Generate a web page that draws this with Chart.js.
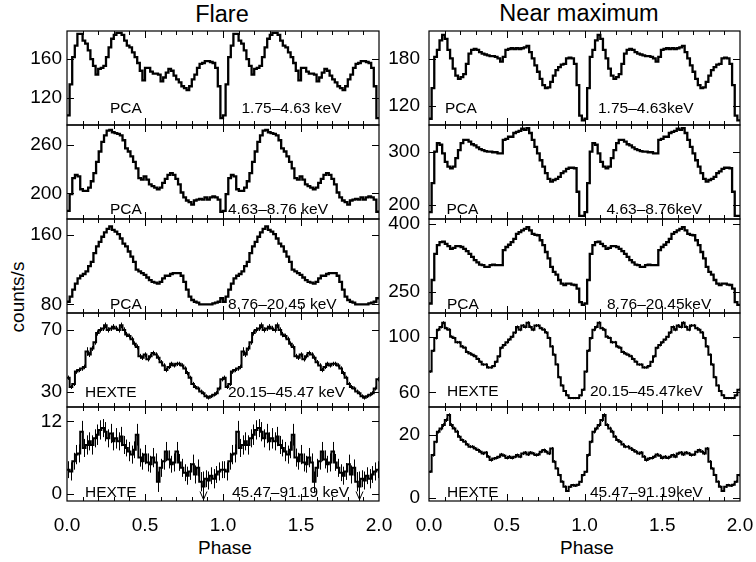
<!DOCTYPE html>
<html>
<head>
<meta charset="utf-8">
<script src="https://cdn.jsdelivr.net/npm/chart.js@4.4.1/dist/chart.umd.min.js"></script>
<style>
  html, body { margin: 0; padding: 0; background: #fff; }
  #wrap { position: relative; width: 756px; height: 562px; overflow: hidden;
          font-family: "Liberation Sans", Arial, Helvetica, sans-serif; color: #000; }
  #wrap canvas { position: absolute; }
  .txt { position: absolute; white-space: nowrap; line-height: 1; }
</style>
</head>
<body>
<div id="wrap">
  <div class="txt" style="font-size:23.5px; left:222px; top:2.5px; transform:translateX(-50%);">Flare</div>
  <div class="txt" style="font-size:23.5px; left:579px; top:2.2px; transform:translateX(-50%);">Near maximum</div>
  <div class="txt" style="font-size:19px; left:17px; top:297px; transform:translate(-50%,-50%) rotate(-90deg);">counts/s</div>
  <div class="txt" style="font-size:19px; left:225px; top:538px; transform:translateX(-50%);">Phase</div>
  <div class="txt" style="font-size:19px; left:587px; top:538px; transform:translateX(-50%);">Phase</div>
</div>
<script>
// ---- Pulse profiles, one cycle each (counts/s per phase bin); plotted over two cycles ----

// Flare
const flarePcaLow = [102,134,162,174,186,186,179,176,169,160, 153,144,150,151,153,162,172,181,185,187,
  187,185,179,174,172,167,162,156,148,138, 151,151,147,145,145,144,137,141,146,150,
  148,143,139,136,132,130,128,132,139,144, 151,155,156,158,158,157,156,151,132,99];
const flarePcaMid = [178,199,219,223,221,205,203,203,207,215, 225,239,252,264,272,278,279,276,275,274,
  272,266,256,252,246,239,231,219,217,221, 217,211,209,207,205,207,213,218,223,225,
  223,218,211,201,195,191,189,186,191,192, 193,192,195,192,195,196,195,192,177];
const flarePcaHigh = [83,89,97,104,110,113,115,118,124,129, 139,147,152,158,163,167,170,166,164,161,
  156,150,147,141,135,129,120,118,116,114, 111,108,106,105,104,106,110,113,113,115,
  116,116,116,113,106,97,89,85,83,82, 80,80,80,80,80,81,82,83,87];
const flareHexteLow = [39,33,35,43,44,45,46,56,54,58, 62,68,70,71,73,70,71,72,71,70,
  73,70,67,66,64,61,59,53,52,54, 51,53,55,54,52,49,47,44,46,48,
  47,48,48,47,45,42,39,35,33,32, 30,29,27,26,27,28,29,32,38];
const flareHexteLowErr = [1.4,1.3,1.4,1.5,1.4,1.5,1.5,2.8,1.6,1.6, 1.6,1.7,1.7,1.7,1.8,1.7,1.7,1.8,1.7,1.7,
  1.8,1.7,1.7,1.6,1.6,1.6,1.6,1.5,1.5,1.5, 1.5,1.5,1.5,1.5,1.5,1.5,1.4,1.4,1.4,1.4,
  1.4,1.4,1.4,1.4,1.4,1.4,1.3,1.3,1.3,1.3, 1.3,1.2,1.2,1.2,1.2,1.2,1.3,1.3,1.4];
const flareHexteHigh = [4.0,3.7,5.4,6.5,6.7,10.3,7.6,8.1,8.7,8.1, 9.2,9.8,10.6,10.9,10.3,9.2,10.0,8.7,9.2,8.7,
  9.5,8.1,7.6,7.0,6.5,7.3,9.8,6.0,5.4,6.5, 5.2,4.9,6.0,5.2,2.0,4.3,5.4,7.0,5.7,4.9,
  5.2,7.0,5.2,4.3,3.5,3.0,3.7,4.9,3.2,4.3, 2.0,1.2,2.5,2.2,3.0,2.5,3.2,3.7,4.0];
const flareHexteHighErr = [1.4,1.5,1.4,1.6,1.5,1.8,1.5,1.6,1.5,1.6, 1.5,1.7,1.6,1.5,1.6,1.5,1.6,1.5,1.7,1.5,
  1.6,1.5,1.4,1.6,1.5,1.4,1.8,1.5,1.4,1.6, 1.5,1.4,1.6,1.5,1.7,1.5,1.4,1.6,1.5,1.4,
  1.5,1.6,1.4,1.5,1.4,1.5,1.4,1.6,1.5,1.4, 1.6,2.5,1.4,1.5,1.4,1.6,1.4,1.5,1.4];
// bins of the 45.47-91.19 keV flare profile shown as upper limits
const flareHexteHighLimitBins = [51];

// Near maximum
const maxPcaLow = [104,143,183,192,204,211,206,192,181,168, 159,155,157,161,174,187,192,193,192,189,
  187,186,185,184,184,183,181,177,183,192, 193,194,193,194,193,194,195,197,189,181,
  172,164,155,147,143,144,151,159,166,170, 173,174,181,182,181,174,147,108,102];
const maxPcaMid = [187,241,300,316,313,297,281,272,269,272, 288,303,316,322,322,319,314,312,308,305,
  303,301,300,300,299,299,297,297,322,324, 328,328,335,337,339,343,341,344,335,322,
  309,297,284,272,260,249,244,247,249,253, 260,263,268,270,270,269,225,180,180];
const maxPcaHigh = [224,276,334,353,360,361,356,351,345,347, 351,351,349,345,340,334,327,320,315,310,
  309,305,305,309,310,309,309,309,342,349, 354,360,367,378,382,386,389,393,386,378,
  376,375,364,353,338,324,305,294,288,276, 268,265,268,268,266,265,257,227,221];
const maxHexteLow = [75,90,99,105,107,110,106,105,100,99, 96,96,93,92,89,88,87,86,84,82,
  80,80,78,78,79,82,86,92,94,96, 98,100,103,107,105,108,107,110,107,105,
  108,108,106,105,103,99,93,87,80,71, 65,61,58,56,56,56,56,58,62];
const maxHexteLowErr = [0.9,1.0,1.0,1.1,1.1,1.1,1.1,1.1,1.0,1.0, 1.0,1.0,1.0,1.0,1.0,1.0,1.0,1.0,1.0,0.9,
  0.9,0.9,0.9,0.9,0.9,0.9,1.0,1.0,1.0,1.0, 1.0,1.0,1.1,1.1,1.1,1.1,1.1,1.1,1.1,1.1,
  1.1,1.1,1.1,1.1,1.1,1.0,1.0,1.0,0.9,0.9, 0.8,0.8,0.8,0.8,0.8,0.8,0.8,0.8,0.9];
const maxHexteHigh = [8.3,13.6,17.9,21.1,22.1,23.2,24.8,26.4,23.2,22.1, 21.1,19.5,18.4,17.9,17.0,16.3,16.3,15.7,15.2,14.7,
  14.1,14.4,13.1,12.0,12.5,12.7,13.1,13.8,13.4,12.7, 13.1,12.7,13.1,13.6,13.1,14.1,14.4,13.8,14.4,14.1,
  13.6,13.8,14.7,15.2,14.7,14.1,15.7,11.5,9.3,7.2, 5.1,3.5,2.1,3.5,4.0,3.8,4.1,5.1,7.2];
const maxHexteHighErr = [0.4,0.5,0.5,0.6,0.6,0.6,0.6,0.6,0.6,0.6, 0.6,0.5,0.5,0.5,0.5,0.5,0.5,0.5,0.5,0.5,
  0.5,0.5,0.5,0.5,0.5,0.5,0.5,0.5,0.5,0.5, 0.5,0.5,0.5,0.5,0.5,0.5,0.5,0.5,0.5,0.5,
  0.5,0.5,0.5,0.5,0.5,0.5,0.5,0.5,0.4,0.4, 0.4,0.4,0.3,0.4,0.4,0.4,0.4,0.4,0.4];

// Axis ticks and ranges, top panel to bottom panel
const phaseTicks = [0, 0.5, 1, 1.5, 2];
const flareTicks = [[120,160],[200,260],[80,160],[30,70],[0,12]];
const flareMin = [92, 168, 70, 20, -1.2];
const flareMax = [189, 285, 178.5, 81, 14.4];
const maxTicks = [[120,180],[200,300],[250,400],[60,100],[0,20]];
const maxMin = [96, 174, 203, 49.6, -1.1];
const maxMax = [216, 350, 411, 117, 29];

const instruments = ['PCA','PCA','PCA','HEXTE','HEXTE'];
const flareBands = ['1.75\u20134.63 keV','4.63\u20138.76 keV','8.76\u201320.45 keV','20.15\u201345.47 keV','45.47\u201391.19 keV'];
const maxBands = ['1.75\u20134.63keV','4.63\u20138.76keV','8.76\u201320.45keV','20.15\u201345.47keV','45.47\u201391.19keV'];

// ---- layout ----
const FONT = '"Liberation Sans", Arial, Helvetica, sans-serif';
Chart.defaults.font.family = FONT;
Chart.defaults.color = '#000';

const rowTop = [31, 125, 219, 313, 407];
const rowH = 94;
const PAD = 28;        // room above/below each plot box for edge tick labels
const AXIS_H = 61;     // phase labels strip under the bottom row
const cols = [
  { canvasLeft: 0,   width: 415, plotLeft: 67,  plotRight: 379, labelPad: 5 },
  { canvasLeft: 385, width: 390, plotLeft: 429, plotRight: 740, labelPad: 9 }
];
// text offsets inside each panel: [dx from left, dy above bottom] for instrument and band
const flareTextPos = [[[43,11.7],[174.5,11.7]], [[43,5],[161,5]], [[43,4.5],[161,4.5]], [[18,10.5],[161,10.5]], [[18,4.3],[165,4.3]]];
const maxTextPos   = [[[16,11.7],[169,11.7]], [[17.5,5.5],[177.5,5.5]], [[18,4],[178,4]], [[18,11],[161,11]], [[18,4.3],[161,4.3]]];

// histogram outline over two cycles: each bin starts at its left edge
function stepPoints(cycle) {
  const n = cycle.length;
  const v = cycle.concat(cycle);
  const pts = v.map((y, i) => ({ x: i / n, y: y }));
  pts.push({ x: 2, y: v[v.length - 1] });
  return pts;
}

const panelPlugin = {
  id: 'panel',
  beforeDatasetsDraw(chart) {
    const ds = chart.data.datasets[0];
    if (!ds.errors) return;
    const { ctx, chartArea: a, scales: { x, y } } = chart;
    const vals = ds.cycle, n = vals.length;
    ctx.save();
    ctx.beginPath(); ctx.rect(a.left, a.top, a.right - a.left, a.bottom - a.top); ctx.clip();
    ctx.strokeStyle = '#000'; ctx.lineWidth = 1;
    for (let k = 0; k < 2; k++) {
      for (let i = 0; i < n; i++) {
        const px = Math.round(x.getPixelForValue(k + (i + 0.5) / n)) + 0.5;
        ctx.beginPath();
        ctx.moveTo(px, y.getPixelForValue(vals[i] - ds.errors[i]));
        ctx.lineTo(px, y.getPixelForValue(vals[i] + ds.errors[i]));
        ctx.stroke();
      }
    }
    ctx.restore();
  },
  afterDatasetsDraw(chart) {
    const ds = chart.data.datasets[0];
    const { ctx, chartArea: a, scales: { x, y } } = chart;
    const o = chart.options.plugins.panel;
    ctx.save();
    ctx.strokeStyle = '#000';
    // upper-limit arrows
    if (ds.limits) {
      const n = ds.cycle.length;
      ctx.lineWidth = 1;
      for (let k = 0; k < 2; k++) {
        ds.limits.forEach(i => {
          const px = Math.round(x.getPixelForValue(k + (i + 0.5) / n)) + 0.5;
          const tip = a.bottom - 1.5;
          ctx.beginPath();
          ctx.moveTo(px, y.getPixelForValue(ds.cycle[i]));
          ctx.lineTo(px, tip);
          ctx.moveTo(px - 3.5, tip - 8);
          ctx.lineTo(px, tip);
          ctx.lineTo(px + 3.5, tip - 8);
          ctx.stroke();
        });
      }
    }
    // frame
    ctx.lineWidth = 1.2;
    ctx.strokeRect(a.left, a.top, a.right - a.left, a.bottom - a.top);
    // phase ticks, top and bottom
    ctx.lineWidth = 1;
    ctx.beginPath();
    for (let t = 1; t < 20; t++) {
      const px = Math.round(x.getPixelForValue(t / 10)) + 0.5;
      const len = (t % 5 === 0) ? 7 : 4;
      ctx.moveTo(px, a.bottom); ctx.lineTo(px, a.bottom - len);
      ctx.moveTo(px, a.top); ctx.lineTo(px, a.top + len);
    }
    // count-rate ticks, left and right
    o.yticks.forEach(v => {
      const py = Math.round(y.getPixelForValue(v)) + 0.5;
      ctx.moveTo(a.left, py); ctx.lineTo(a.left + 7, py);
      ctx.moveTo(a.right, py); ctx.lineTo(a.right - 7, py);
    });
    ctx.stroke();
    ctx.restore();
  },
  afterDraw(chart) {
    const { ctx, chartArea: a } = chart;
    const o = chart.options.plugins.panel;
    ctx.save();
    ctx.fillStyle = '#000';
    ctx.font = '15.5px ' + FONT;
    ctx.textBaseline = 'alphabetic';
    ctx.textAlign = 'left';
    o.texts.forEach(t => ctx.fillText(t.text, a.left + t.pos[0], a.bottom - t.pos[1]));
    ctx.restore();
  }
};

const wrap = document.getElementById('wrap');

function buildPanel(col, row, cycle, ticks, ymin, ymax, texts, errors, limits) {
  const c = cols[col];
  const last = row === 4;
  const cv = document.createElement('canvas');
  const h = PAD + rowH + (last ? AXIS_H : PAD);
  cv.width = c.width; cv.height = h;
  cv.style.left = c.canvasLeft + 'px';
  cv.style.top = (rowTop[row] - PAD) + 'px';
  cv.style.width = c.width + 'px'; cv.style.height = h + 'px';
  wrap.appendChild(cv);
  new Chart(cv, {
    type: 'line',
    data: { datasets: [{
      data: stepPoints(cycle), cycle: cycle, errors: errors, limits: limits,
      stepped: 'before', borderColor: '#000', borderWidth: errors ? 2 : 2.3,
      pointRadius: 0, fill: false, tension: 0
    }] },
    options: {
      responsive: false, animation: false, devicePixelRatio: 1,
      layout: { autoPadding: false,
                padding: { top: PAD, bottom: last ? 0 : PAD, left: 0, right: c.width - (c.plotRight - c.canvasLeft) } },
      plugins: { legend: { display: false }, tooltip: { enabled: false },
                 panel: { yticks: ticks, texts: texts } },
      scales: {
        x: {
          type: 'linear', min: 0, max: 2,
          grid: { display: false, drawTicks: false }, border: { display: false },
          ticks: { display: last, autoSkip: false, maxRotation: 0, padding: 13, color: '#000',
                   font: { size: 19 }, callback: v => Number(v).toFixed(1) },
          afterBuildTicks: s => { s.ticks = phaseTicks.map(v => ({ value: v })); },
          afterFit: s => { s.height = last ? AXIS_H : 0; }
        },
        y: {
          type: 'linear', min: ymin, max: ymax,
          grid: { display: false, drawTicks: false }, border: { display: false },
          ticks: { padding: c.labelPad, color: '#000', font: { size: 19 } },
          afterBuildTicks: s => { s.ticks = ticks.map(v => ({ value: v })); },
          afterFit: s => { s.width = c.plotLeft - c.canvasLeft; }
        }
      }
    },
    plugins: [panelPlugin]
  });
}

const flareProfiles = [flarePcaLow, flarePcaMid, flarePcaHigh, flareHexteLow, flareHexteHigh];
const flareErrors = [null, null, null, flareHexteLowErr, flareHexteHighErr];
const flareLimits = [null, null, null, null, flareHexteHighLimitBins];
const maxProfiles = [maxPcaLow, maxPcaMid, maxPcaHigh, maxHexteLow, maxHexteHigh];
const maxErrors = [null, null, null, maxHexteLowErr, maxHexteHighErr];

for (let r = 0; r < 5; r++) {
  buildPanel(0, r, flareProfiles[r], flareTicks[r], flareMin[r], flareMax[r],
    [{ text: instruments[r], pos: flareTextPos[r][0] }, { text: flareBands[r], pos: flareTextPos[r][1] }],
    flareErrors[r], flareLimits[r]);
  buildPanel(1, r, maxProfiles[r], maxTicks[r], maxMin[r], maxMax[r],
    [{ text: instruments[r], pos: maxTextPos[r][0] }, { text: maxBands[r], pos: maxTextPos[r][1] }],
    maxErrors[r], null);
}
</script>
</body>
</html>
